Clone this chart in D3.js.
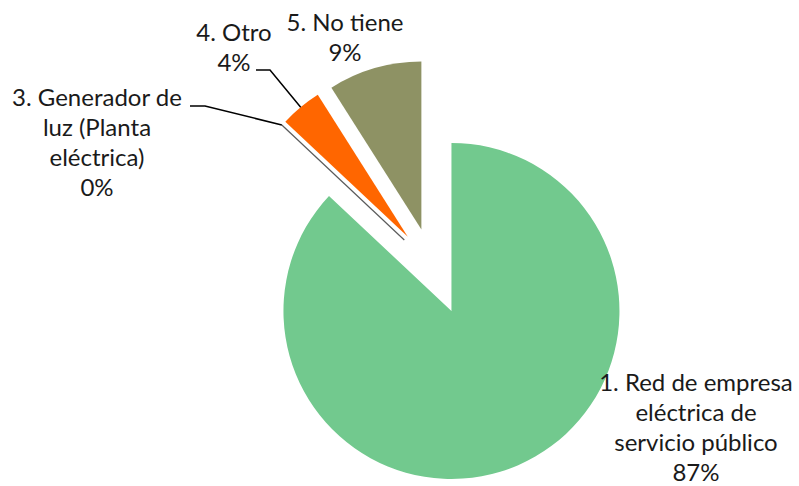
<!DOCTYPE html>
<html>
<head>
<meta charset="utf-8">
<script src="https://cdn.jsdelivr.net/npm/d3@7/dist/d3.min.js"></script>
<style>
  html, body { margin: 0; padding: 0; background: #fff; }
  svg text { font-family: Lato, "Open Sans", sans-serif; fill: #1a1a1a; }
</style>
</head>
<body>
<svg id="chart" width="799" height="486"></svg>
<script>
// Fuente de energía eléctrica del hogar
const categories = [
  "1. Red de empresa eléctrica de servicio público",
  "3. Generador de luz (Planta eléctrica)",
  "4. Otro",
  "5. No tiene"
];
const values = [87, 0, 4, 9];
const labelLines = [
  ["1. Red de empresa", "eléctrica de", "servicio público", "87%"],
  ["3. Generador de", "luz (Planta", "eléctrica)", "0%"],
  ["4. Otro", "4%"],
  ["5. No tiene", "9%"]
];
const colors = ["#72C98E", "#7F7F7F", "#FF6600", "#8E9264"];

// layout
const cx = 432, cy = 266, radius = 168;
const explode = [49, 38, 38, 38];
const fontSize = 24, lineH = 30;
// label anchors: centre x and first baseline
const labelPos = [[696, 391], [97, 106], [234, 41], [345, 31]];

const svg = d3.select("#chart");
const g = svg.append("g").attr("transform", `translate(${cx},${cy})`);

const pie = d3.pie().sort(null).value(d => d).startAngle(0).endAngle(2 * Math.PI);
const arcs = pie(values);
const arc = d3.arc().innerRadius(0).outerRadius(radius);

const offset = (d, i) => {
  const a = (d.startAngle + d.endAngle) / 2;
  return [Math.sin(a) * explode[i], -Math.cos(a) * explode[i]];
};

arcs.forEach((d, i) => {
  const [dx, dy] = offset(d, i);
  const sg = g.append("g").attr("transform", `translate(${dx},${dy})`);
  if (d.endAngle - d.startAngle === 0) {
    // zero-size slice is rendered as a hairline along its angle
    const a = d.startAngle;
    sg.append("line")
      .attr("x1", 0).attr("y1", 0)
      .attr("x2", Math.sin(a) * radius).attr("y2", -Math.cos(a) * radius)
      .attr("stroke", "#5a5a5a").attr("stroke-width", 1.2);
  } else {
    sg.append("path").attr("d", arc(d)).attr("fill", colors[i]);
  }
});

// leader lines for the small slices
const leaders = [
  null,
  { from: [190, 106], elbow: [205, 106], slice: 1 },
  { from: [256, 70], elbow: [270, 70], slice: 2 },
  null
];
leaders.forEach(l => {
  if (!l) return;
  const d = arcs[l.slice];
  const [dx, dy] = offset(d, l.slice);
  const a = (d.startAngle + d.endAngle) / 2;
  const tx = cx + dx + Math.sin(a) * radius;
  const ty = cy + dy - Math.cos(a) * radius;
  svg.append("polyline")
    .attr("points", [l.from, l.elbow, [tx, ty]].map(p => p.join(",")).join(" "))
    .attr("fill", "none").attr("stroke", "#000").attr("stroke-width", 1.5);
});

// data labels
labelLines.forEach((lines, i) => {
  const t = svg.append("text")
    .attr("text-anchor", "middle")
    .attr("font-size", fontSize);
  lines.forEach((s, k) => {
    t.append("tspan").attr("x", labelPos[i][0]).attr("y", labelPos[i][1] + k * lineH).text(s);
  });
});
</script>
</body>
</html>
